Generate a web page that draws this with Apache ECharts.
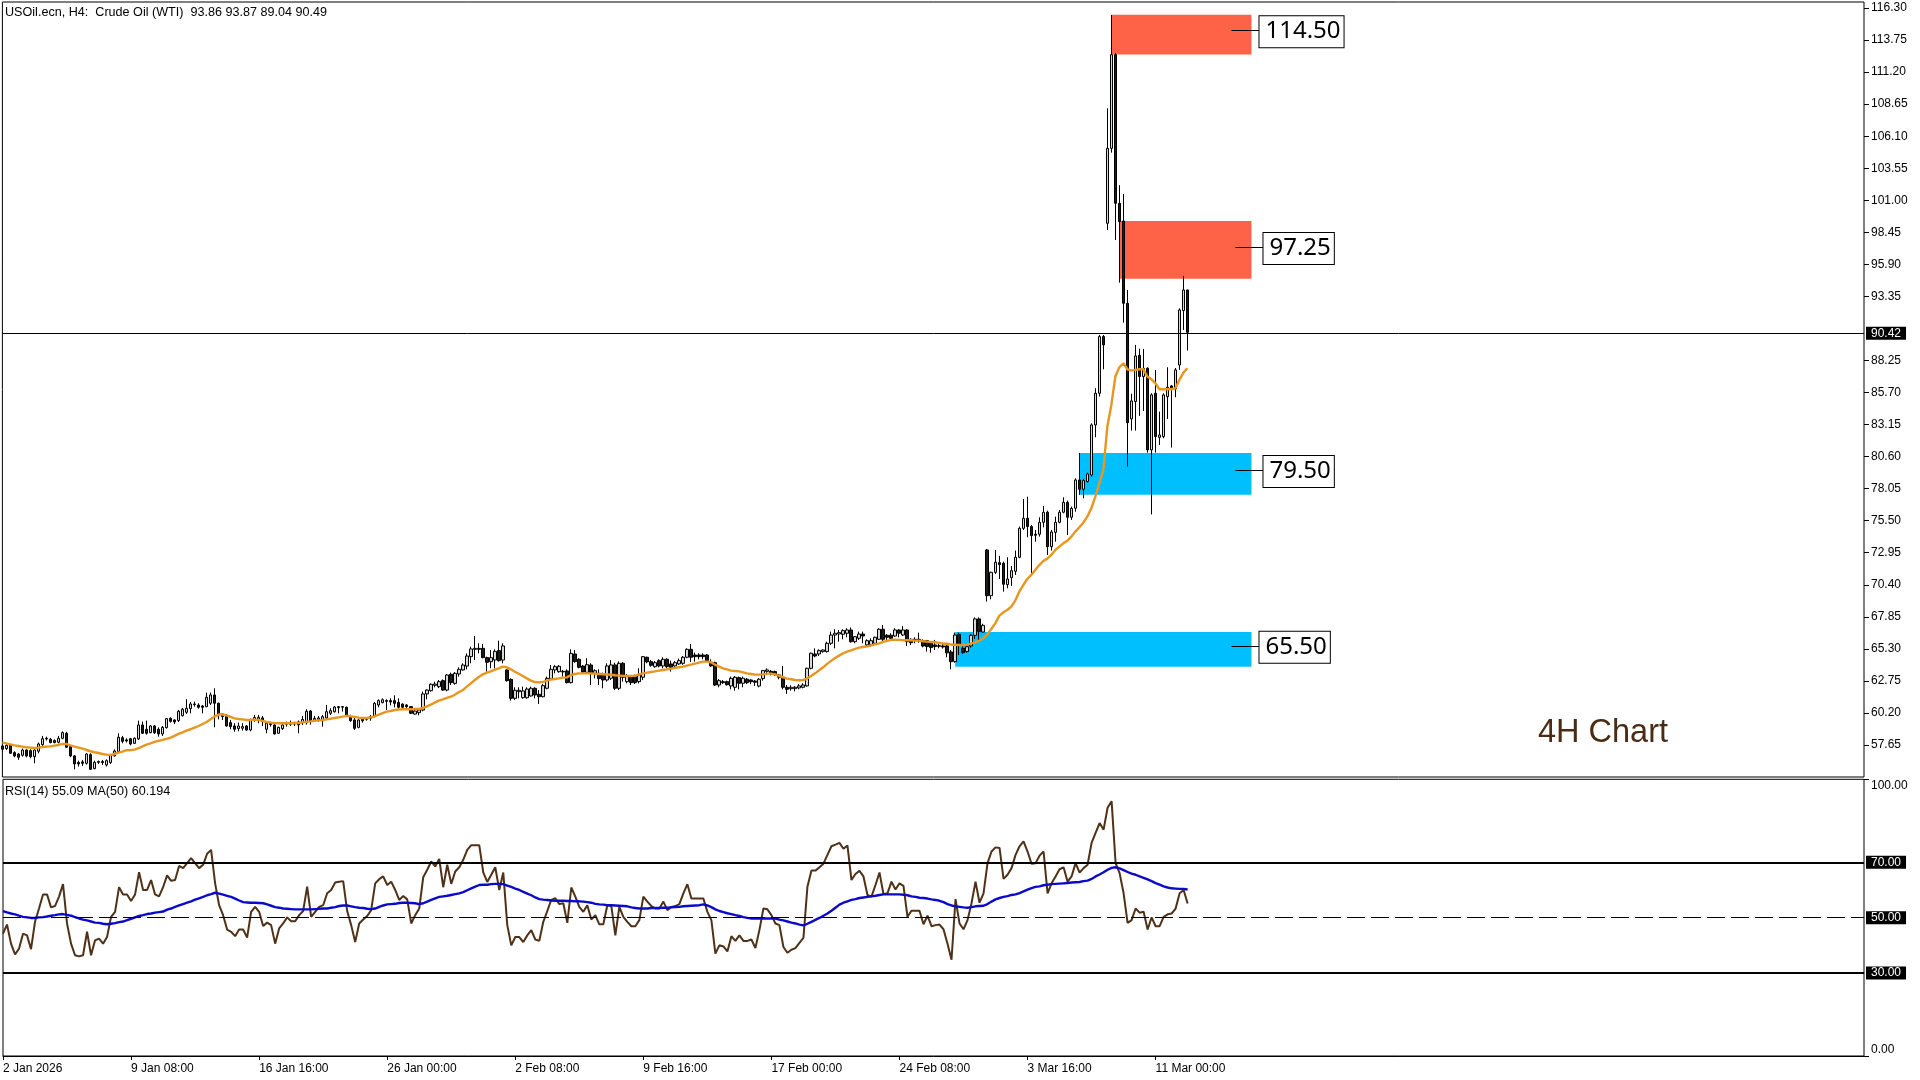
<!DOCTYPE html>
<html><head><meta charset="utf-8">
<style>html,body{margin:0;padding:0;background:#fff}#c{width:1920px;height:1080px}</style>
<script src="https://cdn.jsdelivr.net/npm/echarts@6/dist/echarts.min.js"></script>
</head><body><div id="c"></div>
<script>
// Candle rows: [open, close, low, high]
const candlesJan=[
[57.57,57.31,57.2,57.65],[57.36,57.62,57.25,57.7],[57.62,56.99,56.93,57.7],[57.04,56.78,56.67,57.15],[56.93,56.67,56.46,57.0],[56.83,57.25,56.72,57.36],[57.25,56.78,56.67,57.3],[57.2,56.72,56.59,57.3],[56.72,57.25,56.19,57.3],[57.15,57.73,56.99,57.84],
[57.68,58.15,57.57,58.37],[58.13,58.18,58.0,58.31],[58.1,57.84,57.78,58.2],[58.0,57.84,57.78,58.1],[57.86,58.18,57.78,58.37],[58.18,58.63,58.1,58.74],[58.58,57.47,57.41,58.69],[57.52,56.78,56.67,57.62],[56.78,56.14,55.71,56.85],[56.25,56.14,55.93,56.4],
[56.3,56.19,55.98,56.46],[56.19,56.93,56.09,57.0],[56.88,55.71,55.66,56.99],[55.77,56.27,55.71,56.4],[56.33,56.27,56.14,56.41],[56.33,56.25,56.06,56.46],[56.06,56.4,55.93,56.51],[56.25,56.83,56.14,56.93],[56.78,57.17,56.72,57.3],[57.12,58.26,57.04,58.58],
[58.23,57.94,57.78,58.37],[58.05,57.97,57.84,58.18],[58.15,57.73,57.62,58.2],[57.78,58.18,57.73,58.26],[58.13,59.24,58.05,59.59],[59.24,58.58,58.53,59.51],[58.9,58.58,58.47,59.59],[58.63,59.16,58.58,59.24],[59.16,58.63,58.53,59.24],[58.9,58.53,58.31,59.05],
[58.53,59.05,58.37,59.16],[59.03,59.75,58.95,59.8],[59.77,59.53,59.43,59.85],[59.64,59.48,59.32,59.69],[59.59,60.33,59.48,60.44],[59.98,60.49,59.91,60.6],[60.25,60.57,60.12,61.29],[60.54,60.91,60.17,61.07],[60.86,60.91,60.7,61.1],[60.83,60.65,60.54,60.97],
[60.75,60.65,60.17,60.83],[60.7,61.44,60.65,61.82],[60.97,61.63,60.83,61.82],[61.63,60.97,59.06,62.16],[60.97,60.12,59.69,61.02],[60.12,59.91,59.64,60.17],[59.91,59.16,59.11,60.12],[59.43,59.11,58.9,59.64],[59.16,58.9,58.71,59.38],[58.95,59.16,58.74,59.43],
[58.98,59.11,58.79,59.38],[59.16,58.84,58.79,59.24],[58.84,59.64,58.74,59.75],[59.64,59.83,59.5,60.04],[59.69,59.85,59.38,60.04],[59.8,59.51,59.16,59.96],[58.9,59.38,58.58,59.51],[59.38,59.27,59.11,59.51],[59.24,58.53,58.47,59.32],[58.58,59.05,58.53,59.11],
[58.95,59.24,58.84,59.38],[59.3,59.38,59.11,59.51],[59.3,59.38,59.16,59.59],[59.32,59.38,59.16,59.5],[59.48,59.24,58.58,59.59]];
const candlesFeb1=[
[59.42,59.69,59.24,59.96],[59.42,60.33,59.27,60.49],[60.35,59.53,59.27,60.43],[59.64,59.77,59.48,59.96],[59.69,59.8,59.5,59.96],[59.58,59.9,59.11,60.03],[59.8,60.3,59.74,60.83],[60.17,60.38,60.03,60.57],[60.3,60.67,60.22,60.75],[60.62,60.7,60.17,60.75],
[60.65,60.7,60.3,60.75],[60.65,60.01,59.9,60.7],[59.85,59.58,59.5,60.06],[59.64,58.97,58.84,59.85],[59.05,59.64,58.97,59.69],[59.69,59.58,59.42,59.85],[59.69,59.77,59.58,59.85],[59.77,59.9,59.58,60.03],[59.96,60.96,59.85,61.07],[60.83,61.18,60.65,61.28],
[61.02,61.25,60.96,61.36],[61.18,61.12,60.43,61.28],[61.18,61.07,60.8,61.36],[61.18,60.96,60.64,61.6],[61.04,60.65,60.54,61.36],[60.91,60.65,60.49,60.96],[60.83,60.7,60.54,60.91],[60.7,60.17,60.11,60.75],[60.11,60.35,60.06,60.49],[60.22,60.43,60.01,60.54],
[60.43,61.71,60.33,61.89],[61.71,62.02,61.28,62.08],[61.97,62.48,61.89,62.55],[62.4,62.5,62.24,62.69],[62.29,62.69,62.18,62.82],[62.77,62.02,61.97,62.87],[62.02,63.22,61.92,63.3],[63.27,62.61,62.42,63.4],[62.55,63.35,62.45,63.46],[63.3,63.67,63.09,63.83],
[63.62,64.01,63.56,64.15],[63.93,64.73,63.67,64.94],[64.68,65.29,64.15,65.47],[65.26,65.34,64.41,66.32],[65.34,65.26,64.94,65.74],[65.34,64.6,64.55,65.69],[64.6,64.23,63.48,64.68],[64.28,64.6,63.75,65.21],[64.41,65.1,63.75,65.26],[65.16,64.36,64.28,65.95],
[64.41,65.53,64.15,65.74],[63.62,62.77,62.69,63.67],[62.87,61.36,61.18,62.95],[61.36,62.0,61.23,62.24],[61.89,62.0,61.36,62.24],[61.41,61.95,61.33,62.29],[61.41,62.1,61.33,62.24],[61.55,62.16,61.5,62.29],[62.16,61.63,61.36,62.24],[61.68,61.49,60.91,62.02],
[61.49,62.37,61.44,62.5],[62.16,62.95,62.08,63.09],[62.9,63.67,62.82,64.01],[63.62,63.88,63.35,64.01],[63.48,63.91,63.4,64.01],[63.46,63.51,63.09,63.62],[63.54,62.61,62.55,63.67],[62.61,64.94,62.55,65.26],[64.89,64.28,64.2,65.21],[64.47,63.83,63.75,64.55],
[63.93,63.46,63.4,64.01],[63.43,64.04,63.4,64.55],[64.01,63.35,62.42,64.15],[63.35,63.56,62.95,63.67],[63.35,62.93,62.42,63.67]];
const candlesFeb2=[
[63.3,62.82,62.16,63.41],[62.82,63.94,62.69,64.15],[62.96,64.02,62.82,64.4],[64.02,62.16,62.02,64.2],[62.16,64.15,62.02,64.3],[64.15,63.04,62.69,64.25],[62.69,63.09,62.55,63.3],[63.09,62.61,62.42,63.2],[63.09,62.61,62.5,63.25],[62.69,63.22,62.55,63.75],
[63.04,64.68,62.82,64.73],[64.63,64.26,64.15,64.68],[64.28,63.99,63.88,64.41],[63.88,64.2,63.8,64.33],[64.36,63.94,63.83,64.47],[63.94,64.47,63.75,64.63],[64.47,63.88,63.75,64.55],[64.1,63.83,63.49,64.36],[63.94,64.2,63.78,64.33],[64.1,64.36,64.02,64.52],
[64.15,64.63,64.02,64.73],[64.63,65.26,64.55,65.34],[65.26,64.63,64.25,65.69],[64.81,64.68,64.28,65.0],[64.81,64.68,64.47,64.95],[64.81,64.68,64.47,64.95],[64.81,64.36,64.26,64.89],[64.23,63.94,63.88,64.47],[64.2,62.42,62.34,64.28],[62.42,62.77,62.24,62.9],
[62.69,62.61,62.5,62.82],[62.69,62.45,62.37,62.77],[62.34,62.96,62.08,63.09],[62.24,63.04,61.97,63.14],[63.01,62.56,62.08,63.09],[62.56,62.96,62.24,63.09],[62.88,62.61,62.5,62.98],[62.82,62.69,62.5,62.88],[62.74,62.64,62.34,62.82],[62.34,62.88,62.24,62.96],
[62.93,63.57,62.77,63.62],[63.51,63.62,63.22,63.75],[63.51,63.35,63.19,63.62],[63.49,63.25,63.14,63.57],[63.22,63.04,62.88,63.3],[63.04,62.24,62.08,63.94],[62.24,62.08,61.71,62.42],[62.13,62.24,61.97,62.4],[62.13,62.24,61.92,62.34],[62.19,62.35,62.08,62.5],
[62.24,62.42,62.16,62.56],[62.35,63.75,62.29,63.8],[63.75,64.95,63.67,65.0],[64.89,64.73,64.63,65.34],[64.89,65.16,64.73,65.26],[65.08,65.21,65.0,65.26],[65.08,65.74,65.0,65.87],[65.74,66.4,65.61,66.67],[66.4,66.54,65.34,66.86],[66.48,66.59,65.87,66.8],
[66.46,66.75,66.06,66.86],[66.54,66.8,66.22,66.94],[66.8,65.87,65.79,67.0],[65.87,66.27,65.74,66.32],[66.14,66.48,66.01,66.67],[66.48,66.32,65.74,66.67],[65.61,65.95,65.48,66.06],[65.61,65.95,65.48,66.14],[65.74,66.22,65.61,66.27],[66.06,66.86,66.0,66.94],
[66.86,66.06,65.87,67.2],[66.38,66.22,66.0,66.48],[66.38,66.14,65.95,66.54],[66.32,66.8,66.27,66.94],[66.8,66.54,66.22,66.86],[66.4,66.8,66.32,67.12],[66.8,65.87,65.53,66.86],[66.06,65.79,65.61,66.14],[66.06,65.95,65.74,66.22],[66.06,65.95,65.79,66.59],
[65.95,65.53,65.42,66.06],[65.95,65.48,65.08,66.01],[65.74,65.4,65.0,65.87],[65.61,65.48,65.21,66.01],[65.55,65.5,65.34,65.74],[65.53,65.45,65.32,65.74]];
const candlesMar=[
[65.53,64.98,64.63,65.61],[65.05,64.28,63.67,65.21],[64.28,66.4,64.2,66.59],[66.46,65.61,64.81,66.59],[65.34,65.0,64.9,65.5],[65.08,65.47,65.0,65.6],[65.53,66.38,65.4,66.46],[66.38,67.68,66.1,67.8],[67.68,66.67,66.0,67.8],[66.64,67.17,66.6,67.3],
[73.17,69.53,69.06,73.25],[69.53,71.39,69.24,71.44],[71.39,72.19,71.26,73.17],[72.16,72.0,70.86,72.7],[72.11,70.44,69.85,72.24],[70.41,70.86,70.12,72.59],[70.97,71.52,70.3,71.9],[71.47,72.59,71.18,73.12],[72.59,74.89,72.5,75.03],[74.89,75.69,74.76,77.23],
[75.69,75.03,74.18,77.41],[75.03,74.31,71.26,75.16],[74.42,74.34,73.83,74.76],[74.42,75.37,74.23,75.77],[75.37,76.17,74.97,76.67],[76.17,73.43,72.77,76.3],[73.43,74.6,73.12,74.76],[74.57,75.37,73.83,75.82],[75.37,76.17,75.29,76.35],[76.17,76.96,76.09,77.36],
[76.96,75.77,74.36,77.1],[75.77,76.48,75.56,76.62],[76.49,78.74,76.22,78.87],[78.74,78.0,77.55,80.89],[78.0,78.69,77.28,78.82],[78.61,79.22,78.53,79.33],[79.14,83.12,79.0,83.25],[83.12,85.64,82.14,86.04],[85.64,90.15,85.38,90.28],[90.15,89.49,87.55,90.28],
[99.17,105.13,98.63,108.32],[105.13,112.59,104.79,115.75],[112.59,100.76,97.84,112.7],[100.76,99.3,94.44,102.2],[99.35,92.8,91.26,101.5],[92.8,83.3,79.8,93.86],[83.6,85.03,82.67,85.6],[84.98,88.61,82.67,89.49],[88.66,86.97,83.84,89.19],[86.97,87.63,84.23,89.17],
[87.63,81.13,80.92,87.71],[81.13,85.51,76.0,85.64],[85.64,82.19,80.92,87.5],[82.13,82.32,81.53,84.18],[82.19,85.51,82.06,85.64],[85.37,86.12,83.6,87.71],[86.22,86.04,81.32,86.3],[85.98,87.5,85.32,87.65],[87.89,92.27,87.5,92.4],[92.22,93.86,90.68,94.97],
[93.86,90.49,89.04,93.87]];
const maJan=[57.84,57.78,57.70,57.62,57.57,57.52,57.47,57.44,57.41,57.44,57.49,57.52,57.54,57.60,57.65,57.73,57.73,57.62,57.52,57.44,57.36,57.25,57.15,57.07,57.01,56.93,56.88,56.85,56.93,57.04,57.12,57.23,57.25,57.28,57.39,57.54,57.68,57.78,57.89,57.97,58.05,58.13,58.23,58.37,58.53,58.66,58.79,58.90,59.03,59.16,59.32,59.48,59.69,59.91,60.07,60.07,60.01,59.88,59.77,59.72,59.69,59.64,59.64,59.67,59.64,59.56,59.48,59.43,59.40,59.38,59.38,59.38,59.38,59.40,59.40];
const maFeb1=[59.45,59.50,59.53,59.58,59.61,59.64,59.69,59.74,59.80,59.85,59.90,59.96,59.93,59.88,59.82,59.80,59.80,59.85,59.93,60.06,60.19,60.30,60.35,60.43,60.46,60.49,60.49,60.49,60.51,60.51,60.59,60.72,60.86,61.02,61.18,61.28,61.39,61.49,61.65,61.84,62.02,62.29,62.55,62.82,63.06,63.27,63.40,63.51,63.64,63.75,63.88,63.83,63.67,63.48,63.32,63.14,62.95,62.77,62.66,62.63,62.66,62.77,62.85,62.90,62.95,63.01,63.03,63.22,63.30,63.35,63.35,63.35,63.35,63.32,63.30];
const maFeb2=[63.28,63.26,63.24,63.2,63.18,63.15,63.14,63.14,63.15,63.26,63.35,63.41,63.46,63.51,63.57,63.62,63.67,63.73,63.78,63.83,63.88,63.96,64.04,64.12,64.2,64.28,64.28,64.23,64.04,63.88,63.75,63.67,63.57,63.54,63.51,63.43,63.35,63.3,63.25,63.25,63.27,63.33,63.33,63.27,63.14,63.04,62.93,62.88,62.82,62.8,62.82,62.93,63.14,63.35,63.59,63.83,64.1,64.34,64.57,64.76,64.95,65.08,65.18,65.29,65.4,65.45,65.5,65.58,65.66,65.74,65.85,65.93,66.01,66.03,66.01,65.98,65.98,65.98,65.95,65.95,65.9,65.87,65.85,65.82,65.77,65.71];
const maMar=[65.71,65.63,65.63,65.61,65.61,65.63,65.74,65.82,65.95,66.14,66.43,66.88,67.33,67.92,68.21,68.39,68.66,69.14,69.85,70.38,70.86,71.18,71.58,71.97,72.29,72.48,72.77,73.17,73.43,73.7,73.91,74.23,74.63,74.97,75.34,75.82,76.49,77.41,78.47,79.54,82.99,84.71,86.97,87.71,88.03,87.55,87.44,87.5,87.55,87.55,86.97,86.75,86.44,85.96,85.96,85.96,85.96,86.04,86.7,87.28,87.63];
const rsiJan=[44.2,47.5,40.6,36.7,38.8,44.2,43.6,38.6,48.5,53.3,58.4,58.4,53.7,54.2,57.6,62.1,47.9,40.6,36.4,36.0,36.4,44.9,36.4,41.8,42.4,40.6,43.0,50.3,52.1,61.0,58.4,58.4,56.0,58.4,66.4,60.0,60.0,63.6,58.4,57.7,61.0,65.3,63.3,63.6,68.7,67.9,69.7,71.5,69.7,67.9,69.1,73.1,74.5,62.4,54.5,50.9,45.7,44.9,43.3,45.7,45.7,42.8,52.1,53.9,52.1,47.0,48.2,47.3,40.6,46.1,47.9,50.1,48.7,48.7,50.9];
const rsiFeb1=[52.4,61.2,50.3,52.1,53.9,54.5,58.8,60.0,62.7,63.0,63.2,52.4,47.3,41.2,47.9,49.3,50.6,52.7,62.4,63.9,64.9,61.8,63.0,60.0,56.4,57.8,56.6,47.9,50.9,53.3,64.6,67.3,70.3,68.5,71.2,61.0,69.1,62.2,66.7,68.2,70.9,74.5,76.2,76.2,76.2,66.4,62.9,65.5,68.2,60.0,66.3,47.3,40.0,43.0,43.0,41.2,43.6,45.5,42.1,41.6,48.5,52.4,56.4,57.0,54.9,55.2,48.1,60.9,57.6,53.9,52.1,54.5,49.3,50.9,47.6];
const rsiFeb2=[47.6,54.5,54.2,43.6,53.9,50.3,48.5,46.9,46.9,49.1,57.6,55.8,54.2,53.3,53.3,55.8,52.7,53.9,54.2,54.9,58.8,62.1,56.9,56.9,56.9,56.9,52.1,49.1,37.0,40.0,39.6,37.8,43.3,41.6,43.6,41.6,41.6,42.1,39.0,45.5,53.3,53.0,50.9,47.9,47.3,39.4,37.3,38.4,39.0,40.9,42.7,61.2,67.0,67.0,68.2,69.5,72.7,75.8,76.4,77.0,74.9,76.1,63.6,65.8,66.9,64.9,58.2,57.6,61.8,66.3,58.5,58.8,63.0,60.2,62.4,61.5,50.3,52.5,52.5,52.5,47.6,50.7,46.9,47.3,47.5,45.8];
const rsiMar=[40.6,34.8,56.7,47.9,45.8,49.1,55.2,63.0,55.4,58.8,69.7,73.9,75.4,75.2,64.0,65.5,67.9,72.7,75.8,77.6,73.9,69.5,69.7,72.4,73.9,58.8,62.4,64.9,67.5,68.2,63.0,64.9,69.7,66.3,67.9,69.1,77.0,80.6,84.2,81.8,89.7,92.1,69.7,66.1,58.8,48.1,49.1,53.3,51.8,52.1,45.7,50.1,46.9,46.9,50.3,51.2,51.5,53.3,58.8,60.0,55.09];
const rsiMaJan=[52.4,51.9,51.5,51.2,50.7,50.3,50.1,49.9,49.9,50.1,50.2,50.4,50.7,50.9,51.2,51.3,51.0,50.7,50.2,49.7,49.3,49.0,48.6,48.2,48.1,47.8,47.6,47.8,48.0,48.4,48.6,49.1,49.6,50.1,50.6,50.9,51.3,51.5,51.8,52.0,52.2,52.9,53.3,53.9,54.4,54.9,55.4,55.9,56.5,57.0,57.5,58.1,58.5,59.0,58.7,58.3,57.9,57.5,56.9,56.2,55.6,55.5,55.4,55.4,55.3,55.2,54.8,54.3,53.8,53.6,53.3,53.2,53.1,53.0,53.0];
const rsiMaFeb1=[53.0,53.0,53.0,53.1,53.2,53.3,53.3,53.6,53.8,54.2,54.4,54.4,54.1,53.8,53.6,53.5,53.2,53.1,53.3,53.9,54.4,54.8,54.9,55.0,55.3,55.4,55.4,55.3,55.2,54.9,55.2,55.8,56.4,57.0,57.5,57.7,57.9,58.2,58.5,58.8,59.2,59.9,60.6,61.2,61.8,61.9,61.9,62.1,62.2,62.2,62.1,61.6,61.1,60.5,60.0,59.3,58.7,58.1,57.3,56.7,56.5,56.4,56.2,56.1,56.1,56.1,56.0,56.0,55.9,55.9,55.8,55.6,55.4,55.0,54.8];
const rsiMaFeb2=[54.7,54.5,54.5,54.4,54.3,54.2,54.1,53.7,53.5,53.3,53.3,53.3,53.5,53.5,53.5,53.6,53.6,53.7,53.8,53.9,54.1,54.2,54.3,54.4,54.5,54.8,54.4,53.8,53.0,52.4,52.0,51.6,51.3,50.9,50.6,50.2,49.9,49.7,49.7,49.7,49.7,49.7,49.7,49.7,49.3,49.0,48.6,48.2,47.9,47.5,47.2,47.8,48.5,49.2,49.9,50.7,51.5,52.5,53.6,54.7,55.4,55.9,56.4,56.7,57.1,57.3,57.5,57.7,57.9,58.2,58.4,58.4,58.4,58.4,58.4,58.3,58.1,57.7,57.5,57.2,57.1,56.9,56.6,56.4,56.1,55.6];
const rsiMaMar=[54.9,54.4,54.1,53.9,53.7,53.6,53.8,54.1,54.2,54.3,54.9,55.8,56.6,57.1,57.5,57.8,58.2,58.4,58.9,59.5,60.1,60.7,61.1,61.3,61.7,61.9,62.1,62.2,62.3,62.4,62.5,62.7,62.8,62.9,63.2,63.4,64.0,64.9,65.6,66.4,67.3,68.0,68.2,67.8,67.2,66.5,65.9,65.5,64.9,64.4,63.8,63.2,62.5,61.9,61.3,60.9,60.6,60.5,60.4,60.4,60.194];
const dateTicks=['2 Jan 2026','9 Jan 08:00','16 Jan 16:00','26 Jan 00:00','2 Feb 08:00','9 Feb 16:00','17 Feb 00:00','24 Feb 08:00','3 Mar 16:00','11 Mar 00:00'];
const priceTicks=[116.30,113.75,111.20,108.65,106.10,103.55,101.00,98.45,95.90,93.35,88.25,85.70,83.15,80.60,78.05,75.50,72.95,70.40,67.85,65.30,62.75,60.20,57.65];
const rsiTicks=[0,100];
const rsiLevels=[70,50,30];
const lastPrice=90.42;
// Zones: start bar, end bar, lower, upper, level, label
const zoneBars=[277,279,269,238];
const zoneLow=[112.6,94.76,77.57,63.87];
const zoneHigh=[115.77,99.35,80.89,66.65];
const zoneLevel=[114.50,97.25,79.50,65.50];
const zoneLabel=['114.50','97.25','79.50','65.50'];
const zoneColor=['#ff6347','#ff6347','#00bfff','#00bfff'];
const zoneLineStart=[306.7,307.7,307.7,306.7];
const zoneLineEnd=[313.6,314.6,314.6,313.6];
const headerText='USOil.ecn, H4:  Crude Oil (WTI)  93.86 93.87 89.04 90.49';
const rsiText='RSI(14) 55.09 MA(50) 60.194';
const noteText='4H Chart';

const candles=[...candlesJan,...candlesFeb1,...candlesFeb2,...candlesMar];
const ma=[...maJan,...maFeb1,...maFeb2,...maMar];
const rsi=[...rsiJan,...rsiFeb1,...rsiFeb2,...rsiMar];
const rsiMa=[...rsiMaJan,...rsiMaFeb1,...rsiMaFeb2,...rsiMaMar];
const N=466, ZONE_END=311.6;
const cats=[];for(let i=0;i<N;i++)cats.push(i%32===0&&dateTicks[i/32]?dateTicks[i/32]:'');
const FONT='"Liberation Sans"';
const tag={position:'end',distance:2,color:'#fff',backgroundColor:'#000',padding:[1,5,0,5],fontFamily:FONT,fontSize:12,lineHeight:12};
const chart=echarts.init(document.getElementById('c'),null,{renderer:'canvas'});
chart.setOption({
 animation:false,backgroundColor:'#fff',
 grid:[
  {left:2.4,right:56,top:2,height:775,show:true,borderColor:'#000',borderWidth:1,backgroundColor:'transparent'},
  {left:2.4,right:56,top:779.3,height:276.7,show:true,borderColor:'#000',borderWidth:1,backgroundColor:'transparent'}],
 xAxis:[
  {type:'category',gridIndex:0,data:cats,boundaryGap:false,axisLine:{show:false},axisTick:{show:false},axisLabel:{show:false},splitLine:{show:false}},
  {type:'category',gridIndex:1,data:cats,boundaryGap:false,axisLine:{show:true,lineStyle:{color:'#000'}},
   axisTick:{show:true,interval:(i,v)=>v!=='',length:4,lineStyle:{color:'#000'}},
   axisLabel:{show:true,interval:(i,v)=>v!=='',align:'left',margin:7,color:'#000',fontFamily:FONT,fontSize:12},splitLine:{show:false}}],
 yAxis:[
  {type:'value',gridIndex:0,position:'right',min:55.10,max:116.78,splitLine:{show:false},axisLine:{show:false},
   axisTick:{show:true,length:5,lineStyle:{color:'#000'},customValues:priceTicks},
   axisLabel:{show:true,inside:false,margin:7,padding:[2,0,0,0],color:'#000',fontFamily:FONT,fontSize:12,customValues:priceTicks,formatter:v=>v.toFixed(2)}},
  {type:'value',gridIndex:1,position:'right',min:0,max:100,splitLine:{show:false},axisLine:{show:false},
   axisTick:{show:true,length:5,lineStyle:{color:'#000'},customValues:rsiTicks},
   axisLabel:{show:true,margin:7,color:'#000',fontFamily:FONT,fontSize:12,customValues:rsiTicks,formatter:v=>v.toFixed(2),verticalAlignMinLabel:'bottom',verticalAlignMaxLabel:'top'}}],
 graphic:[
  {type:'text',left:5,top:6,silent:true,style:{text:headerText,fill:'#000',font:'12.6px '+FONT}},
  {type:'text',left:5,top:785,silent:true,style:{text:rsiText,fill:'#000',font:'12.6px '+FONT}},
  {type:'text',left:1538,top:717,silent:true,style:{text:noteText,fill:'#4a2c14',font:'32.5px '+FONT}}],
 series:[
  {type:'line',name:'zones',xAxisIndex:0,yAxisIndex:0,z:1,data:[],silent:true,
   markArea:{silent:true,z:1,data:zoneBars.map((b,i)=>[
     {coord:[b,zoneHigh[i]],itemStyle:{color:zoneColor[i],opacity:1}},
     {coord:[ZONE_END,zoneLow[i]]}])}},
  {type:'candlestick',name:'USOil',xAxisIndex:0,yAxisIndex:0,z:3,data:candles,barWidth:3,silent:true,
   itemStyle:{color:'#d8d8d8',color0:'#1f1a14',borderColor:'#000',borderColor0:'#000',borderWidth:1},
   markLine:{silent:true,symbol:'none',animation:false,precision:2,lineStyle:{color:'#000',width:1,type:'solid'},
     label:Object.assign({formatter:p=>p.value.toFixed(2)},tag),data:[{yAxis:lastPrice}]}},
  {type:'line',name:'MA',xAxisIndex:0,yAxisIndex:0,z:4,data:ma,showSymbol:false,symbol:'none',silent:true,lineStyle:{color:'#e8961e',width:2.4}},
  {type:'line',name:'labels',xAxisIndex:0,yAxisIndex:0,z:5,data:[],silent:true,
   markLine:{silent:true,symbol:'none',animation:false,lineStyle:{color:'#000',width:1,type:'solid'},label:{show:false},
     data:zoneLevel.map((v,i)=>[{coord:[zoneLineStart[i],v]},{coord:[zoneLineEnd[i],v]}])},
   markPoint:{silent:true,symbol:'rect',symbolSize:0,animation:false,
     data:zoneLevel.map((v,i)=>({coord:[zoneLineEnd[i],v],value:zoneLabel[i],
       label:{show:true,position:'right',distance:0,offset:[0,1],formatter:zoneLabel[i],color:'#000',backgroundColor:'#fff',borderColor:'#000',borderWidth:1,
       padding:[2,3,1,6],fontFamily:'"Noto Sans"',fontSize:24,lineHeight:28}}))}},
  {type:'line',name:'RSI',xAxisIndex:1,yAxisIndex:1,z:3,data:rsi,showSymbol:false,symbol:'none',silent:true,lineStyle:{color:'#4f3118',width:2},
   markLine:{silent:true,symbol:'none',animation:false,label:Object.assign({formatter:p=>p.value.toFixed(2)},tag),
     data:rsiLevels.map(v=>({yAxis:v,lineStyle:v===50?{color:'#000',width:1,type:[18,6]}:{color:'#000',width:2,type:'solid'}}))}},
  {type:'line',name:'RSI MA',xAxisIndex:1,yAxisIndex:1,z:4,data:rsiMa,showSymbol:false,symbol:'none',silent:true,lineStyle:{color:'#0a0ac8',width:2.4}}
 ]
});
</script></body></html>
